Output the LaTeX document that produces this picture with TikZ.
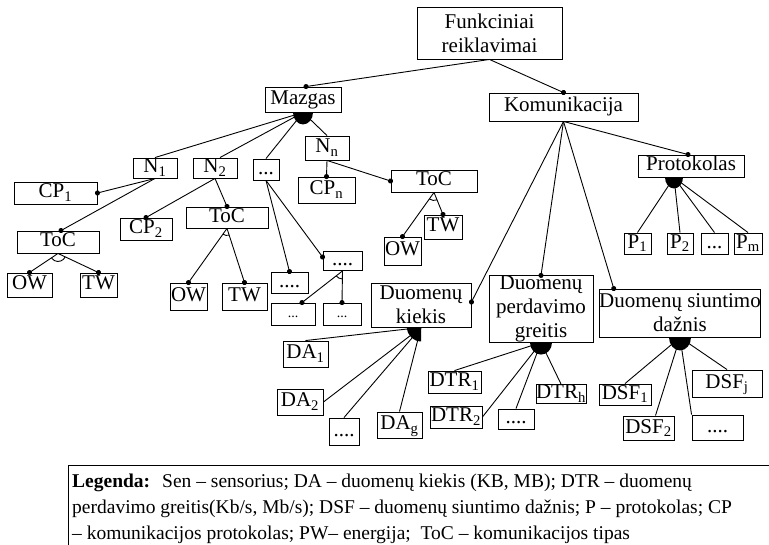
\documentclass[tikz,border=0pt]{standalone}
\usepackage{fontspec}
\setmainfont{Liberation Serif}
\usetikzlibrary{arrows.meta}

\newcommand\boxfont{\fontsize{21}{24}\selectfont}
\newcommand\smallboxfont{\fontsize{14}{16}\selectfont}
\newcommand\legendfont{\fontsize{19.5}{26}\selectfont}
% filled half-ellipse ("AND" fan) hanging below a point
\newcommand\andfan[3]{\fill #1 -- ++(0:#2) arc[start angle=0, end angle=180, x radius=#2, y radius=#3] -- cycle;}
% open arc ("OR" mark) between two branches
\newcommand\orarc[4]{\draw[link] #1 ++(#2:#4) arc[start angle=#2, end angle=#3, radius=#4];}

\begin{document}
\begin{tikzpicture}[x=1pt, y=-1pt,
  box/.style={draw, line width=0.9pt, rectangle, inner sep=0pt, font=\boxfont,
              text height=14.5pt, text depth=4.5pt},
  multibox/.style={draw, line width=0.9pt, rectangle, inner sep=0pt, font=\boxfont, align=center},
  smallbox/.style={box, font=\smallboxfont, text height=10pt, text depth=2pt},
  link/.style={line width=0.9pt},
  dotlink/.style={link, -{Circle[length=5pt]}, shorten >=-2.5pt},
]
\useasboundingbox (0,0) rectangle (769,545);

% ---------- top levels ----------
\node[multibox, minimum width=145pt, minimum height=52pt] (fr) at (489.5,33) {Funkciniai\\reiklavimai};
\node[box, minimum width=76pt, minimum height=25pt] (mazgas) at (303,99.5) {Mazgas};
\node[box, minimum width=149pt, minimum height=28pt] (kom) at (563.5,107) {Komunikacija};

% ---------- Mazgas branch ----------
\node[box, minimum width=44pt, minimum height=20pt] (n1) at (155,168) {N\textsubscript{1}};
\node[box, minimum width=44pt, minimum height=20pt] (n2) at (215,168) {N\textsubscript{2}};
\node[box, minimum width=26pt, minimum height=21pt] (dots1) at (266,169.5) {...};
\node[box, minimum width=44pt, minimum height=24pt] (nn) at (327,148) {N\textsubscript{n}};

\node[box, minimum width=83pt, minimum height=22pt] (cp1) at (55.5,193) {CP\textsubscript{1}};
\node[box, minimum width=82pt, minimum height=22pt] (toc1) at (58,242) {ToC};
\node[box, minimum width=45pt, minimum height=24pt] (ow1) at (29.5,285) {OW};
\node[box, minimum width=37pt, minimum height=24pt] (tw1) at (98.5,285) {TW};

\node[box, minimum width=52pt, minimum height=22pt] (cp2) at (146,229) {CP\textsubscript{2}};
\node[box, minimum width=82pt, minimum height=21pt] (toc2) at (227,217.5) {ToC};
\node[box, minimum width=37pt, minimum height=27pt] (ow2) at (188.5,296.5) {OW};
\node[box, minimum width=45pt, minimum height=27pt] (tw2) at (244.5,296.5) {TW};

\node[box, minimum width=37pt, minimum height=21pt] (dd1) at (289.5,282.5) {....};
\node[box, minimum width=39pt, minimum height=18pt] (dd2) at (342.5,261) {....};
\node[smallbox, minimum width=44pt, minimum height=22pt] (s1) at (293,314) {...};
\node[smallbox, minimum width=38pt, minimum height=22pt] (s2) at (342,314) {...};

\node[box, minimum width=57pt, minimum height=26pt] (cpn) at (326.5,190) {CP\textsubscript{n}};
\node[box, minimum width=86pt, minimum height=22pt] (toc3) at (434,181) {ToC};
\node[box, minimum width=38pt, minimum height=24pt] (tw3) at (443,227) {TW};
\node[box, minimum width=37pt, minimum height=28pt] (ow3) at (402.5,251) {OW};

% ---------- Komunikacija branch ----------
\node[box, minimum width=106pt, minimum height=22pt] (prot) at (691,166) {Protokolas};
\node[box, minimum width=27pt, minimum height=21pt] (p1) at (637.5,243.5) {P\textsubscript{1}};
\node[box, minimum width=26pt, minimum height=21pt] (p2) at (680,243.5) {P\textsubscript{2}};
\node[box, minimum width=27pt, minimum height=21pt] (pd) at (714.5,243.5) {...};
\node[box, minimum width=28pt, minimum height=21pt] (pm) at (748,243.5) {P\textsubscript{m}};

\node[multibox, minimum width=100pt, minimum height=44pt] (kiekis) at (421,305) {Duomenų\\kiekis};
\node[multibox, minimum width=104pt, minimum height=66pt] (greitis) at (541,309) {Duomenų\\perdavimo\\greitis};
\node[multibox, minimum width=156pt, minimum height=48pt] (daznis) at (680,313) {Duomenų siuntimo\\dažnis};

\node[box, minimum width=45pt, minimum height=26pt] (da1) at (305.5,354) {DA\textsubscript{1}};
\node[box, minimum width=46pt, minimum height=26pt] (da2) at (300,402) {DA\textsubscript{2}};
\node[box, minimum width=30pt, minimum height=27pt] (dad) at (344,431.5) {....};
\node[box, minimum width=45pt, minimum height=26pt] (dag) at (399.5,425) {DA\textsubscript{g}};

\node[box, minimum width=53pt, minimum height=22pt] (dtr1) at (454.5,382) {DTR\textsubscript{1}};
\node[box, minimum width=52pt, minimum height=22pt] (dtr2) at (456,417) {DTR\textsubscript{2}};
\node[box, minimum width=36pt, minimum height=20pt] (dtrd) at (516,419) {....};
\node[box, minimum width=50pt, minimum height=18pt] (dtrh) at (561,394) {DTR\textsubscript{h}};

\node[box, minimum width=52pt, minimum height=21pt] (dsf1) at (625,394.5) {DSF\textsubscript{1}};
\node[box, minimum width=51pt, minimum height=24pt] (dsf2) at (648.5,428) {DSF\textsubscript{2}};
\node[box, minimum width=51pt, minimum height=25pt] (dsfd) at (717.5,427.5) {....};
\node[box, minimum width=70pt, minimum height=27pt] (dsfj) at (727,383.5) {DSF\textsubscript{j}};

% ---------- connectors ----------
\draw[dotlink] (fr.south) -- ([xshift=3pt]mazgas.north);
\draw[dotlink] (fr.south) -- (kom.north);

\andfan{(mazgas.south)}{10}{12}
\draw[link] (mazgas.south) -- (n1.north);
\draw[link] (mazgas.south) -- ([xshift=5pt]n2.north);
\draw[link] (mazgas.south) -- (dots1.north);
\draw[link] (mazgas.south) -- (nn.north);

\draw[dotlink] (n1.south) -- (cp1.east);
\draw[dotlink] (n1.south) -- ([xshift=3pt]toc1.north);
\draw[dotlink] (toc1.south) -- (ow1.north);
\draw[dotlink] (toc1.south) -- (tw1.north);
\orarc{(toc1.south)}{26}{145}{8}

\draw[dotlink] (n2.south) -- (cp2.north);
\draw[dotlink] (n2.south) -- (toc2.north);
\draw[dotlink] (toc2.south) -- (ow2.north);
\draw[dotlink] (toc2.south) -- (tw2.north);
\orarc{(toc2.south)}{72}{125}{7}

\draw[dotlink] (dots1.south) -- (dd1.north);
\draw[dotlink] (dots1.south) -- ([yshift=4pt]dd2.west);
\draw[dotlink] (dd2.south) -- ([xshift=9pt]s1.north);
\draw[dotlink] (dd2.south) -- (s2.north);
\orarc{(dd2.south)}{91}{141}{8}

\draw[dotlink] (nn.south) -- (cpn.north);
\draw[dotlink] (nn.south) -- (toc3.west);
\draw[dotlink] (toc3.south) -- (ow3.north);
\draw[dotlink] (toc3.south) -- (tw3.north);
\orarc{(toc3.south)}{68}{125}{8}

\draw[dotlink] (kom.south) -- ([xshift=-3pt]prot.north);
\draw[dotlink] (kom.south) -- ([yshift=3pt]kiekis.east);
\draw[dotlink] (kom.south) -- (greitis.north);
\draw[dotlink] (kom.south) -- ([xshift=15pt]daznis.north west);

\andfan{([xshift=-17pt]prot.south)}{9}{11}
\draw[link] ([xshift=-17pt]prot.south) -- (p1.north);
\draw[link] ([xshift=-17pt]prot.south) -- (p2.north);
\draw[link] ([xshift=-17pt]prot.south) -- (pd.north);
\draw[link] ([xshift=-17pt]prot.south) -- (pm.north);

\fill (kiekis.south) -- ++(90:14) arc[start angle=90, end angle=180, radius=14] -- cycle;
\draw[link] (kiekis.south) -- (da1.north);
\draw[link] (kiekis.south) -- (da2.east);
\draw[link] (kiekis.south) -- (dad.north);
\draw[link] (kiekis.south) -- (dag.north);

\andfan{(greitis.south)}{11}{12}
\draw[link] (greitis.south) -- (dtr1.north);
\draw[link] (greitis.south) -- (dtr2.east);
\draw[link] (greitis.south) -- (dtrd.north);
\draw[link] (greitis.south) -- (dtrh.north);

\andfan{(daznis.south)}{11}{13}
\draw[link] (daznis.south) -- (dsf1.north);
\draw[link] (daznis.south) -- ([xshift=7pt]dsf2.north);
\draw[link] (daznis.south) -- (dsfd.north west);
\draw[link] (daznis.south) -- (dsfj.north);

% ---------- legend ----------
\draw[line width=0.9pt] (68,545) -- (68,465) -- (769,465);
\node[anchor=north west, align=left, inner sep=0pt, font=\legendfont] (legend) at (72,473.5)
  {{\bfseries Legenda:}\hspace{12pt}Sen – sensorius; DA – duomenų kiekis (KB, MB); DTR – duomenų\\
   perdavimo greitis(Kb/s, Mb/s); DSF – duomenų siuntimo dažnis; P – protokolas; CP\\
   – komunikacijos protokolas; PW– energija;\ \ ToC – komunikacijos tipas};
\end{tikzpicture}
\end{document}
